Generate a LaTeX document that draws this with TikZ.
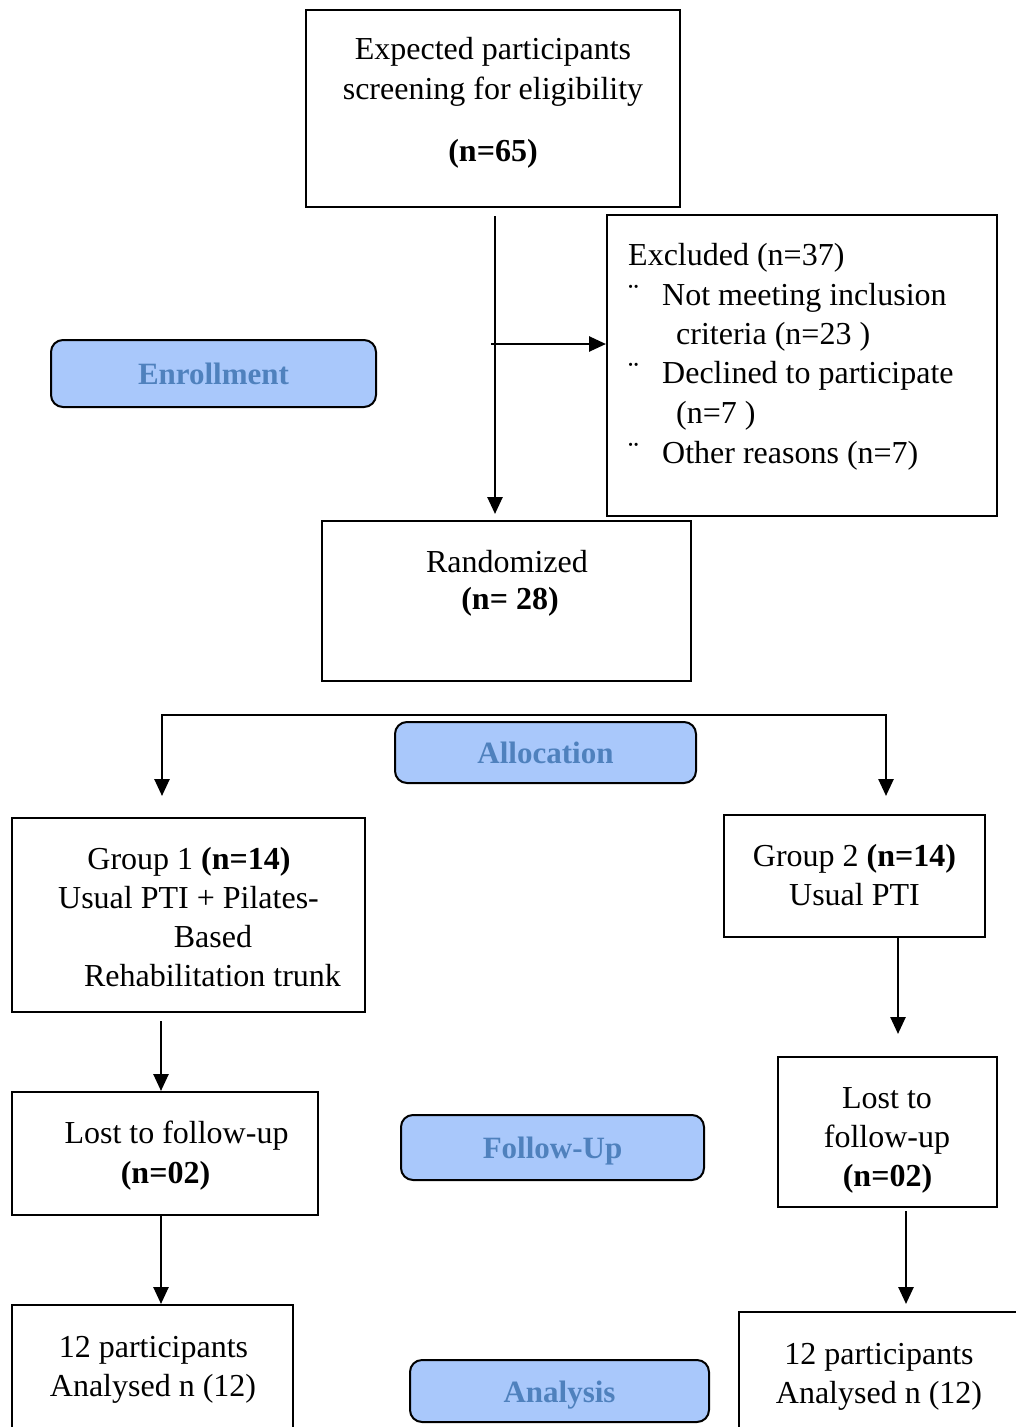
\documentclass[tikz,border=0pt]{standalone}
\usepackage{fontspec}
\setmainfont{Liberation Serif}
\usepackage{xcolor}
\usetikzlibrary{arrows.meta}
\definecolor{phasefill}{HTML}{A9C8FB}
\definecolor{phasetext}{HTML}{4F81BD}
\tikzset{
  box/.style={draw, line width=2pt, rectangle, inner sep=0pt},
  phase/.style={draw, line width=2pt, rounded corners=12pt, fill=phasefill, text=phasetext,
    font=\bfseries\fontsize{31}{37}\selectfont, inner sep=0pt, text height=22pt, text depth=0pt},
  txt/.style={inner sep=0pt, anchor=base, align=center, font=\fontsize{32}{39.5}\selectfont},
  ltxt/.style={inner sep=0pt, anchor=base west, font=\fontsize{32}{39.5}\selectfont},
  arr/.style={line width=2.6pt, -{Triangle[length=17pt,width=15pt]}},
  arrs/.style={line width=2.6pt, {Triangle[length=17pt,width=15pt]}-{Triangle[length=17pt,width=15pt]}}
}
\begin{document}
\begin{tikzpicture}[x=1pt,y=-1pt]
\useasboundingbox (0,0) rectangle (1015,1427);
% boxes
\node[box, minimum width=374pt, minimum height=197pt] (top) at (493,108.5) {};
\node[box, minimum width=390pt, minimum height=301pt] (excl) at (802,365.5) {};
\node[box, minimum width=369pt, minimum height=160pt] (rand) at (506.5,601) {};
\node[box, minimum width=353pt, minimum height=194pt] (g1) at (188.5,915) {};
\node[box, minimum width=261pt, minimum height=122pt] (g2) at (854.5,876) {};
\node[box, minimum width=306pt, minimum height=123pt] (lost1) at (165,1153.5) {};
\node[box, minimum width=219pt, minimum height=150pt] (lost2) at (887.5,1132) {};
\node[box, minimum width=281pt, minimum height=160pt] (anal1) at (152.5,1385) {};
\node[box, minimum width=300pt, minimum height=160pt] (anal2) at (889,1392) {};
% phase labels
\node[phase, minimum width=325pt, minimum height=67pt] (enrol) at (213.5,373.5) {Enrollment};
\node[phase, minimum width=301pt, minimum height=61pt] (alloc) at (545.5,752.5) {Allocation};
\node[phase, minimum width=303pt, minimum height=65pt] (follow) at (552.5,1147.5) {Follow-Up};
\node[phase, minimum width=299pt, minimum height=62pt] (analysis) at (559.5,1391) {Analysis};
% texts
\node[txt] (toptxt) at (493,99) {Expected participants\\screening for eligibility};
\node[txt] (topn) at (493,161) {\textbf{(n=65)}};
\node[ltxt] (exhead) at (628,265) {Excluded (n=37)};
\node[ltxt] (exb1) at (628,305) {¨};
\node[ltxt] (ex1) at (662,305) {Not meeting inclusion};
\node[ltxt] (ex1b) at (676,344) {criteria (n=23 )};
\node[ltxt] (exb2) at (628,383) {¨};
\node[ltxt] (ex2) at (662,383) {Declined to participate};
\node[ltxt] (ex2b) at (676,423) {(n=7 )};
\node[ltxt] (exb3) at (628,463) {¨};
\node[ltxt] (ex3) at (662,463) {Other reasons (n=7)};
\node[txt] (randtxt) at (507,572) {Randomized};
\node[txt] (randn) at (510,609) {\textbf{(n= 28)}};
\node[txt] (g1a) at (189,869) {Group 1 \textbf{(n=14)}};
\node[txt] (g1b) at (188.5,908) {Usual PTI + Pilates-};
\node[txt] (g1c) at (213,947) {Based};
\node[txt] (g1d) at (212.5,986) {Rehabilitation trunk};
\node[txt] (g2a) at (854.5,866) {Group 2 \textbf{(n=14)}};
\node[txt] (g2b) at (854.5,905) {Usual PTI};
\node[txt] (l1a) at (176.5,1143) {Lost to follow-up};
\node[txt] (l1b) at (165.5,1183) {\textbf{(n=02)}};
\node[txt] (l2a) at (887,1108) {Lost to};
\node[txt] (l2b) at (887,1147) {follow-up};
\node[txt] (l2c) at (887.5,1186) {\textbf{(n=02)}};
\node[txt] (a1a) at (153.5,1357) {12 participants};
\node[txt] (a1b) at (153,1396) {Analysed n (12)};
\node[txt] (a2a) at (879,1364) {12 participants};
\node[txt] (a2b) at (879,1403) {Analysed n (12)};
% connectors
\coordinate (split) at (491,344);
\coordinate (lft) at (162,715);
\coordinate (rgt) at (886,715);
\draw[arr] ([xshift=2pt,yshift=-8pt]top.south) -- ([xshift=2pt,yshift=6pt]top.south |- rand.north);
\draw[arr] (split) -- (split -| excl.west);
\draw[arrs] ([yshift=21pt]g1.north -| lft) -- (lft) -- (rgt) -- ([yshift=18pt]g2.north -| rgt);
\draw[arr] ([xshift=-4pt,yshift=-8pt]lost1.north |- g1.south) -- ([xshift=-4pt]lost1.north);
\draw[arr] ([xshift=-4pt]lost1.south) -- ([xshift=-4pt]lost1.south |- anal1.north);
\draw[arr] ([xshift=43.5pt]g2.south) -- ([xshift=43.5pt,yshift=22pt]g2.south |- lost2.north);
\draw[arr] ([xshift=18.5pt,yshift=-3pt]lost2.south) -- ([xshift=18.5pt,yshift=7pt]lost2.south |- anal2.north);
\end{tikzpicture}
\end{document}
